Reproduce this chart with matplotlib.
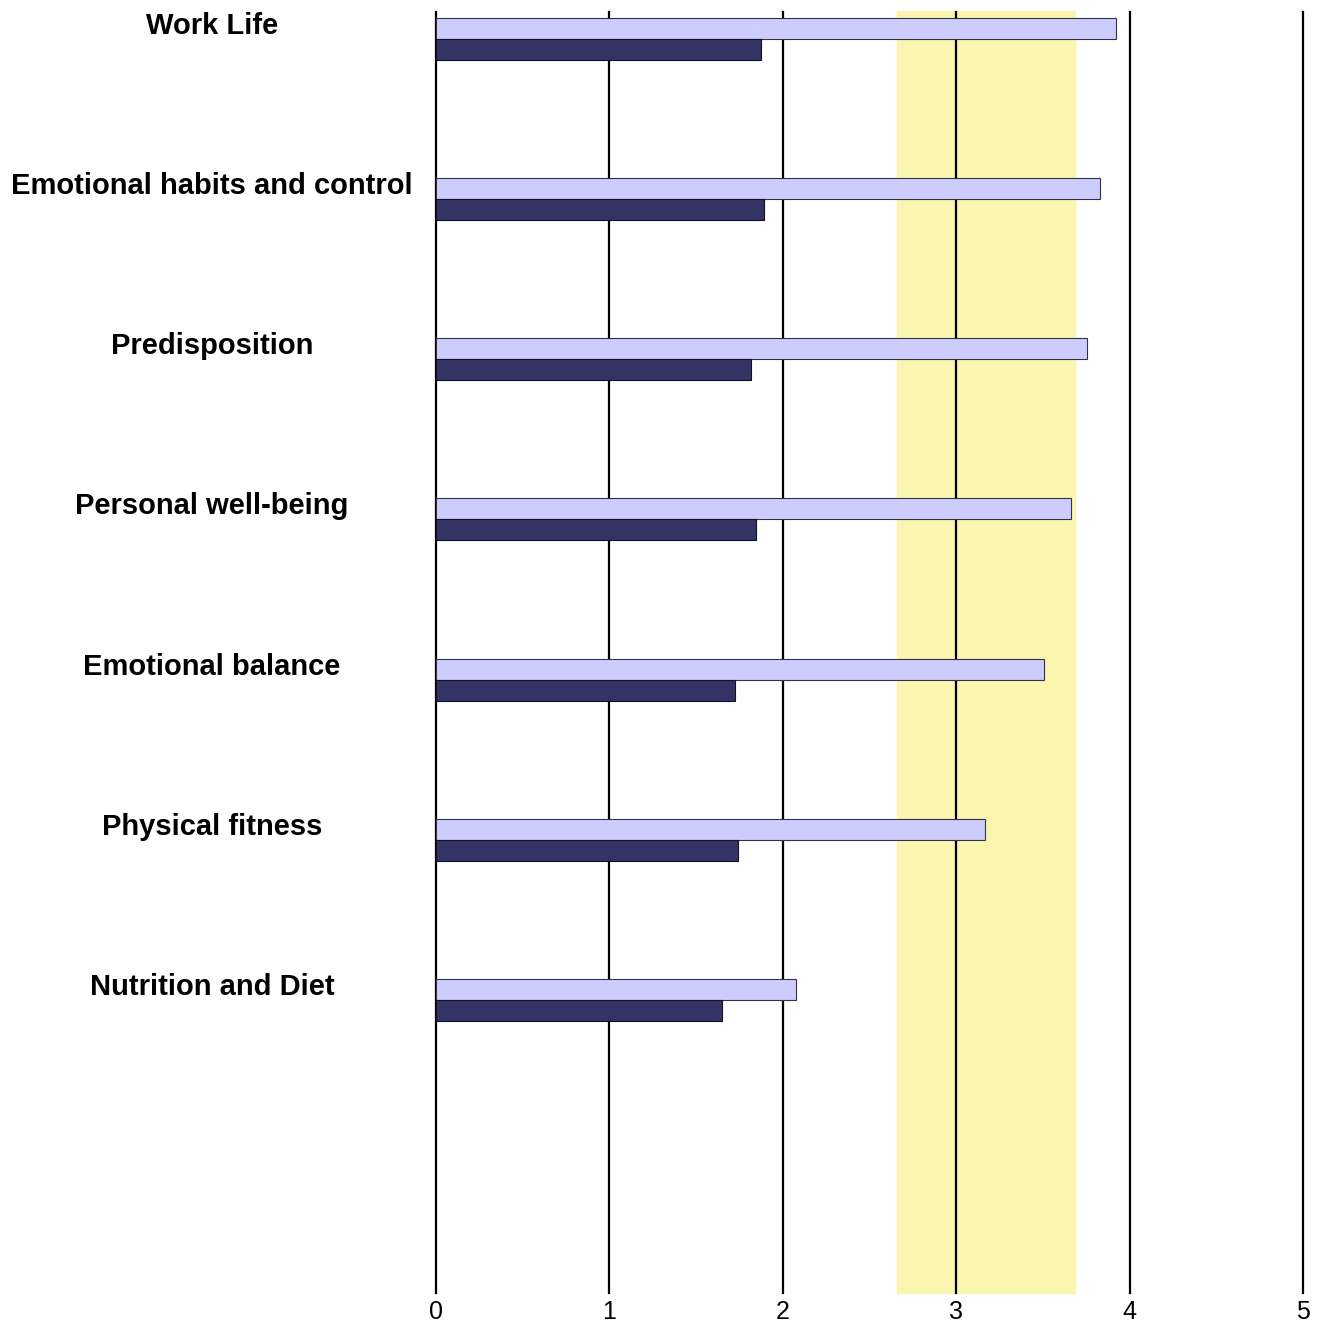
import numpy as np
import matplotlib.pyplot as plt
import matplotlib.transforms as mtransforms

plt.rcParams['font.family'] = ['Liberation Sans', 'DejaVu Sans']

categories = ["Work Life", "Emotional habits and control", "Predisposition",
              "Personal well-being", "Emotional balance", "Physical fitness",
              "Nutrition and Diet"]
light_vals = [3.92, 3.83, 3.755, 3.66, 3.505, 3.165, 2.075]
dark_vals = [1.875, 1.89, 1.815, 1.845, 1.725, 1.74, 1.65]
band = (2.66, 3.685)
n_slots = 8

fig = plt.figure(figsize=(13.28, 13.24), dpi=100)
ax = fig.add_axes([436 / 1328, 1 - 1293 / 1324, (1303 - 436) / 1328, (1293 - 12) / 1324])

# target zone
ax.axvspan(band[0], band[1], ymin=0, ymax=1.001, color="#FAF6B0", zorder=0, clip_on=False)
for x in range(6):
    ax.axvline(x, color="black", lw=1.6, zorder=1, clip_on=False)

pos = np.arange(len(categories))
h = 21 / 160
ax.barh(pos + 6 / 160, light_vals, height=h, align="edge", color="#CCCCFF",
        edgecolor="#333344", linewidth=0.8, zorder=2)
ax.barh(pos + 27 / 160, dark_vals, height=h, align="edge", color="#333366",
        edgecolor="#111122", linewidth=0.8, zorder=2)

trans = mtransforms.blended_transform_factory(fig.transFigure, ax.transData)
for i, name in enumerate(categories):
    fig.text(212 / 1328, i + 14 / 160, name, transform=trans, ha="center", va="center",
             fontsize=21, fontweight="bold")

ax.set_xlim(0, 5)
ax.set_ylim(n_slots, 0)
ax.set_yticks([])
ax.set_xticks(range(6))
ax.tick_params(axis="x", length=0, labelsize=18, pad=5)
for s in ax.spines.values():
    s.set_visible(False)

fig.savefig("out.png", dpi=100)
